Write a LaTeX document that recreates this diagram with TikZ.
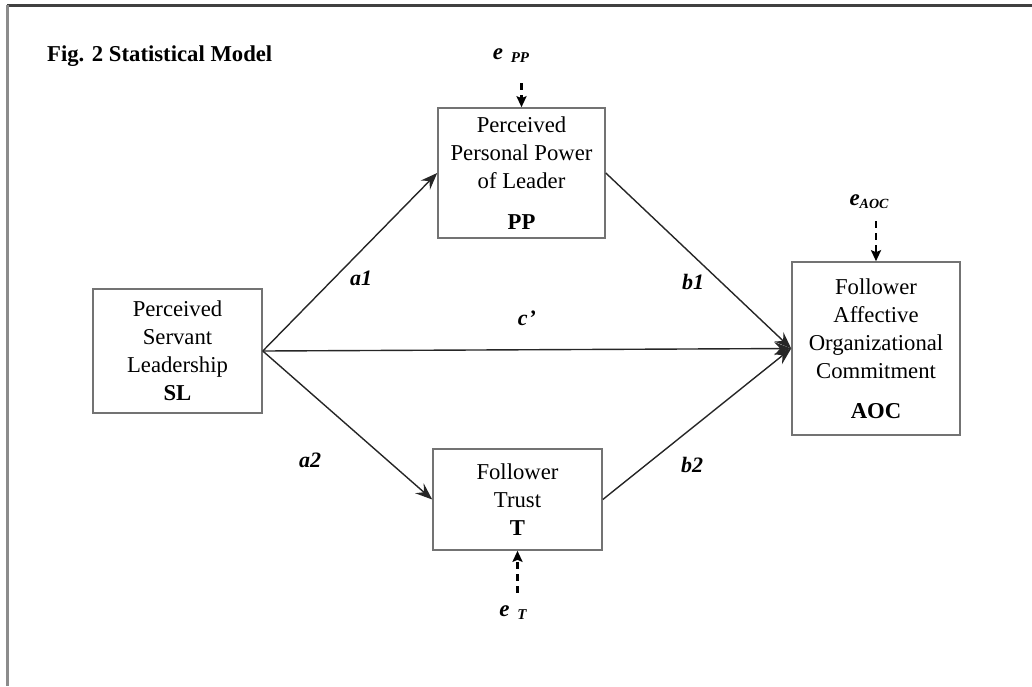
\documentclass[tikz,border=0pt]{standalone}
\usepackage{fontspec}
\setmainfont{Liberation Serif}
\usetikzlibrary{arrows.meta}
\begin{document}
\begin{tikzpicture}[x=1pt,y=-1pt,
  varbox/.style={draw=black!55, line width=1.6pt, align=center, inner sep=0pt,
    font=\fontsize{22.7}{28}\selectfont},
  effect/.style={draw=black!85, line width=1.4pt,
    -{Stealth[length=17pt,width=13pt,inset=6pt]}},
  errpath/.style={draw=black, line width=2.4pt, dash pattern=on 7pt off 5pt,
    -{Stealth[length=11pt,width=10pt,inset=2pt]}},
  coef/.style={font=\fontsize{22}{26}\selectfont\bfseries\itshape},
  errlabel/.style={font=\fontsize{23}{26}\selectfont\bfseries\itshape, inner sep=0pt}
]
\useasboundingbox (0,0) rectangle (1032,686);

% page frame
\draw[line width=3pt, black!75] (7,5) -- (1032,5);
\draw[line width=2.5pt, black!45] (7.5,5) -- (7.5,686);

% title
\node[anchor=base west, inner sep=0pt, font=\fontsize{22.7}{28}\selectfont\bfseries]
  (title) at (47,61) {Fig. 2 Statistical Model};

% variables
\node[varbox, minimum width=169pt, minimum height=124pt] (SL) at (177.5,351)
  {Perceived\\Servant\\Leadership\\\textbf{SL}};
\node[varbox, minimum width=167pt, minimum height=130pt] (PP) at (521.5,173)
  {Perceived\\Personal Power\\of Leader\\[13pt]\textbf{PP}};
\node[varbox, minimum width=169pt, minimum height=101pt] (T) at (517.5,499.5)
  {Follower\\Trust\\\textbf{T}};
\node[varbox, minimum width=168pt, minimum height=173pt] (AOC) at (876,348.5)
  {Follower\\Affective\\Organizational\\Commitment\\[12pt]\textbf{AOC}};

% paths
\draw[effect] (SL.east) -- (PP.west);
\draw[effect] (SL.east) -- (T.west);
\draw[effect] (SL.east) -- (AOC.west);
\draw[effect] (PP.east) -- (AOC.west);
\draw[effect] (T.east) -- (AOC.west);

% path coefficients
\node[coef] (a1) at (361,278) {a1};
\node[coef] (a2) at (310,460) {a2};
\node[coef] (b1) at (693,282) {b1};
\node[coef] (b2) at (692,465) {b2};
\node[coef] (c) at (527,318) {c\kern1pt\textquoteright};

% error terms
\node[errlabel] (ePP) at (511,56)
  {e\,\,\raisebox{-3pt}{\fontsize{15}{18}\selectfont PP}};
\node[errlabel] (eT) at (513,613)
  {e\,\,\raisebox{-3pt}{\fontsize{15}{18}\selectfont T}};
\node[errlabel] (eAOC) at (869,202)
  {e\raisebox{-3pt}{\fontsize{14}{18}\selectfont AOC}};

\coordinate (ePPend) at ([yshift=24pt]PP.north);
\coordinate (eTend) at ([yshift=-42pt]T.south);
\coordinate (eAOCend) at ([yshift=40pt]AOC.north);
\draw[errpath] (ePPend) -- (PP.north);
\draw[errpath] (eTend) -- (T.south);
\draw[errpath] (eAOCend) -- (AOC.north);
\end{tikzpicture}
\end{document}
